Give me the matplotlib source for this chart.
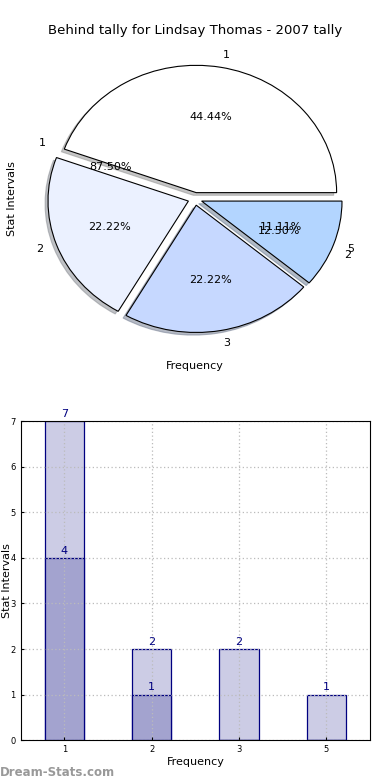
import numpy as np
import matplotlib
matplotlib.use('Agg')
import matplotlib.pyplot as plt

# data
title = 'Behind tally for Lindsay Thomas - 2007 tally'
pie_labels = ['1', '2', '3', '5']
pie_values = [4, 2, 2, 1]
pie_colors = ['#ffffff', '#ebf1ff', '#c6d8ff', '#b3d5ff']
pie2_labels = ['1', '2']
pie2_values = [7, 1]

categories = ['1', '2', '3', '5']
light_vals = [7, 2, 2, 1]
dark_vals = [4, 1, 0, 0]

fig = plt.figure(figsize=(3.9, 7.8), dpi=100)

# pie on top
ax1 = fig.add_axes([0.05, 0.541, 0.9, 0.408])
wedges, texts, autotexts = ax1.pie(pie_values, labels=pie_labels, colors=pie_colors,
                                   explode=[0.05] * len(pie_values), autopct='%.2f%%',
                                   shadow={'ox': -0.015, 'oy': -0.015, 'shade': 0.45},
                                   startangle=0, counterclock=True,
                                   pctdistance=0.6, labeldistance=1.1,
                                   wedgeprops=dict(edgecolor='black', linewidth=0.8),
                                   textprops=dict(fontsize=8))
# second pie, wedges hidden, only texts show
w2, t2, a2 = ax1.pie(pie2_values, labels=pie2_labels, explode=[0.05] * len(pie2_values),
                     autopct='%.2f%%', startangle=0, pctdistance=0.6, labeldistance=1.1,
                     textprops=dict(fontsize=8))
for w in w2:
    w.set_visible(False)
ax1.set_aspect('auto')
ax1.set_xlim(-1.25, 1.25)
ax1.set_ylim(-1.25, 1.25)
ax1.set_title(title, fontsize=9.5, pad=4)
ax1.set_xlabel('Frequency', fontsize=8)
ax1.set_ylabel('Stat Intervals', fontsize=8)
ax1.xaxis.labelpad = 2
ax1.yaxis.labelpad = 2

# bars at the bottom
ax2 = fig.add_axes([0.053, 0.051, 0.896, 0.409])
x = np.arange(len(categories))
ax2.bar(x, light_vals, width=0.45, color='#ccccE5', edgecolor='navy', linewidth=0.9)
ax2.bar(x, dark_vals, width=0.45, color='#a3a3cf', edgecolor='navy', linewidth=0.9)
for i in range(len(categories)):
    ax2.text(x[i], light_vals[i] + 0.05, str(light_vals[i]), ha='center', va='bottom',
             color='navy', fontsize=8)
    if dark_vals[i] > 0:
        ax2.text(x[i], dark_vals[i] + 0.05, str(dark_vals[i]), ha='center', va='bottom',
                 color='navy', fontsize=8)
ax2.set_xticks(x)
ax2.set_xticklabels(categories)
ax2.set_xlim(-0.5, 3.5)
ax2.set_ylim(0, 7)
ax2.set_yticks(range(8))
ax2.tick_params(labelsize=6, length=2, direction='in')
ax2.grid(True, linestyle=(0, (1, 2)), color='#bbbbbb', linewidth=0.9)
ax2.set_axisbelow(False)
for sp in ax2.spines.values():
    sp.set_zorder(4)
ax2.set_xlabel('Frequency', fontsize=8, labelpad=2)
ax2.set_ylabel('Stat Intervals', fontsize=8, labelpad=-1)

fig.text(0.0, 0.005, 'Dream-Stats.com', color='#999999', fontsize=8.5, fontweight='bold')

fig.savefig('out.png', dpi=100)
